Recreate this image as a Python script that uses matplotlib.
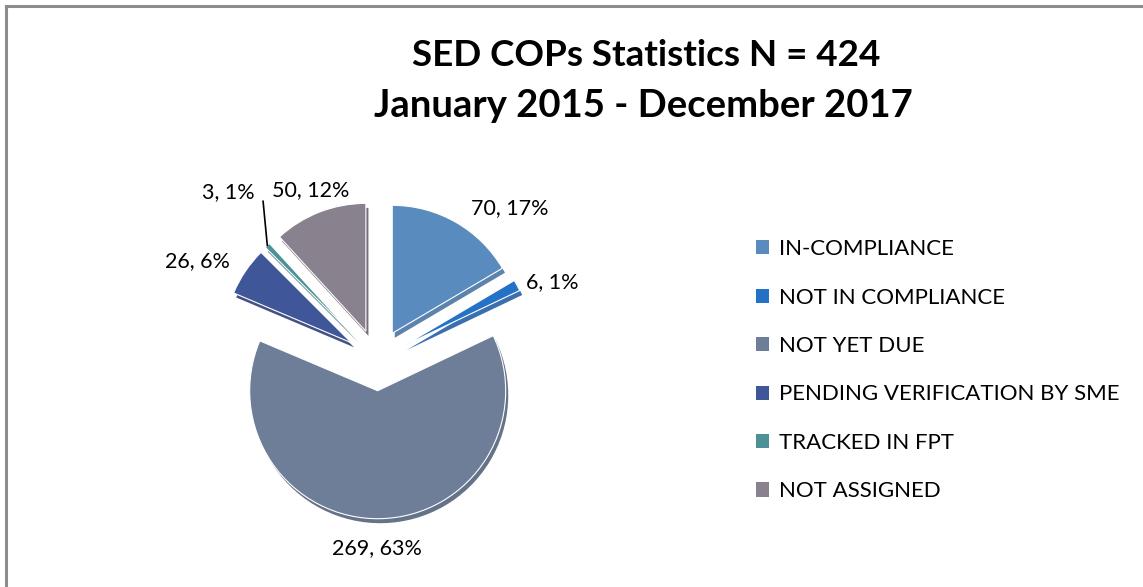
import matplotlib
matplotlib.use("Agg")
import matplotlib.pyplot as plt
from matplotlib.patches import Patch
import numpy as np

categories = ["IN-COMPLIANCE", "NOT IN COMPLIANCE", "NOT YET DUE",
              "PENDING VERIFICATION BY SME", "TRACKED IN FPT", "NOT ASSIGNED"]
counts = [70, 6, 269, 26, 3, 50]
percent_labels = ["17%", "1%", "63%", "6%", "1%", "12%"]
colors = ["#5a8bbf", "#2472c6", "#6e7e99", "#3f5699", "#4b9196", "#8a818f"]
edge_colors = ["#3f6d9c", "#1a56a0", "#4a5a74", "#24356f", "#2d6b6e", "#5d5563"]
title_lines = ["SED COPs Statistics N = 424", "January 2015 - December 2017"]

# label text positions in pie-radius units (relative to pie centre)
label_xy = [(1.04, 1.19), (1.37, 0.61), (0.0, -1.47), (-1.40, 0.77), (-1.16, 1.31), (-0.52, 1.33)]

plt.rcParams['font.family'] = ['Lato', 'DejaVu Sans']

W, H = 1143, 587
fig = plt.figure(figsize=(W / 100, H / 100), dpi=100)
fig.patch.set_facecolor("white")

# border lines (left + top)
fig.add_artist(plt.Line2D([6 / W, 6 / W], [0, 1 - 6 / H], color="#8c8c8c", lw=2.2))
fig.add_artist(plt.Line2D([6 / W, 1], [1 - 6 / H, 1 - 6 / H], color="#8c8c8c", lw=2.2))

# pie axes: centre at (377, 360) px, radius 128 px
R = 128
cx, cy = 377, 360
half = 230
ax = fig.add_axes([(cx - half) / W, (H - cy - half) / H, 2 * half / W, 2 * half / H])
ax.set_xlim(-half / R, half / R)
ax.set_ylim(-half / R, half / R)
ax.set_aspect("equal")
ax.axis("off")

explode = [0.24] * len(counts)

# shadow / thickness layer
sh, _ = ax.pie(counts, explode=explode, startangle=90, counterclock=False,
               colors=edge_colors, center=(0.02, -0.035), radius=1.0,
               wedgeprops=dict(linewidth=0))
for w in sh:
    w.set_alpha(0.85)
wedges, _ = ax.pie(counts, explode=explode, startangle=90, counterclock=False,
                   colors=colors, radius=1.0,
                   wedgeprops=dict(linewidth=0.8, edgecolor="white"))
ax.set_xlim(-half / R, half / R)
ax.set_ylim(-half / R, half / R)

for i, (c, p) in enumerate(zip(counts, percent_labels)):
    x, y = label_xy[i]
    ax.text(x, y, f"{c}, {p}", ha="center", va="center", fontsize=15.5, color="black")

# leader line for the tiny TRACKED IN FPT slice
w = wedges[4]
mid = np.deg2rad((w.theta1 + w.theta2) / 2)
ox, oy = w.center
ex, ey = ox + np.cos(mid) * 1.0, oy + np.sin(mid) * 1.0
lx, ly = label_xy[4]
ax.plot([lx + 0.27, ex], [ly - 0.07, ey], color="black", lw=1.2)

# title
fig.text(646 / W, 1 - 55 / H, title_lines[0], ha="center", va="center",
         fontsize=26.5, fontweight="bold")
fig.text(643 / W, 1 - 106 / H, title_lines[1], ha="center", va="center",
         fontsize=27.5, fontweight="bold")

handles = [Patch(facecolor=c, edgecolor="none") for c in colors]
fig.legend(handles, categories, loc="upper left",
           bbox_to_anchor=(745 / W, 1 - 228 / H), frameon=False,
           fontsize=16, handlelength=0.6, handleheight=0.6,
           handletextpad=0.45, labelspacing=1.28, borderpad=0)

fig.savefig("out.png", dpi=100)
